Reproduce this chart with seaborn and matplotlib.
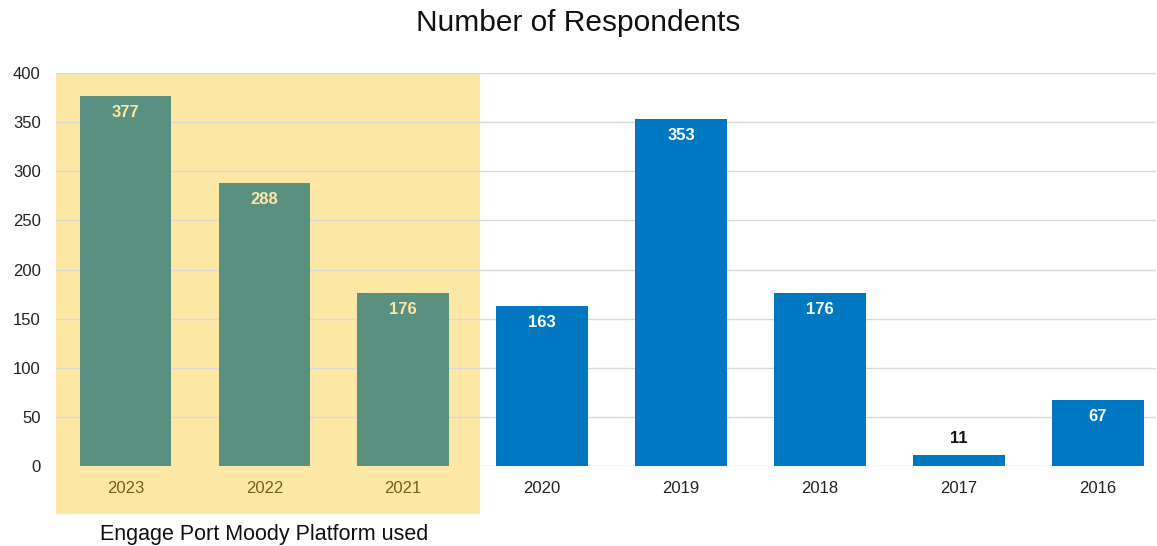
import matplotlib.pyplot as plt
import matplotlib.transforms as mtransforms
from matplotlib.patches import Rectangle
import pandas as pd
import seaborn as sns

years = ["2023", "2022", "2021", "2020", "2019", "2018", "2017", "2016"]
respondents = [377, 288, 176, 163, 353, 176, 11, 67]
platform = ["Engage", "Engage", "Engage", "Other", "Other", "Other", "Other", "Other"]

GREEN = "#5A9080"
BLUE = "#0078C1"
YELLOW = "#FDE7A5"
BROWN = "#7A5E1E"

df = pd.DataFrame({"year": years, "count": respondents, "platform": platform})

sns.set_style("white")
plt.rcParams["font.family"] = ["Liberation Sans", "DejaVu Sans"]

fig = plt.figure(figsize=(11.57, 5.46), dpi=100)
ax = fig.add_axes([56 / 1157, 1 - 466 / 546, 1100 / 1157, 393 / 546])

sns.barplot(data=df, x="year", y="count", hue="platform", order=years,
            palette={"Engage": GREEN, "Other": BLUE}, dodge=False,
            saturation=1, width=0.66, linewidth=0, edgecolor="none",
            legend=False, ax=ax, zorder=3)

ax.set_xlim(-0.5, 7.42)
ax.set_ylim(0, 400)
ax.set_yticks(range(0, 401, 50))
ax.grid(axis="y", color="#D9D9D9", linewidth=1, zorder=1)
ax.set_axisbelow(False)
for s in ax.spines.values():
    s.set_visible(False)
ax.tick_params(length=0)
ax.tick_params(axis="y", pad=11)
ax.tick_params(axis="x", pad=11)
ax.set_xlabel("")
ax.set_ylabel("")
for lbl in ax.get_yticklabels():
    lbl.set_fontsize(12)
    lbl.set_color("#222222")
for i, lbl in enumerate(ax.get_xticklabels()):
    lbl.set_fontsize(12)
    lbl.set_color(BROWN if platform[i] == "Engage" else "#222222")

# highlighted region for Engage platform years
trans = mtransforms.blended_transform_factory(ax.transData, ax.transAxes)
n_engage = platform.count("Engage")
ax.add_patch(Rectangle((-0.5, -0.122), n_engage + 0.05, 1.122, transform=trans,
                       facecolor=YELLOW, edgecolor="none", clip_on=False, zorder=0))
ax.text((n_engage - 1) / 2, -0.175, "Engage Port Moody Platform used", transform=trans,
        ha="center", va="center", fontsize=15.5, color="#111111")

# value labels
for i, v in enumerate(respondents):
    if v < 30:
        ax.text(i, v + 16.5, str(v), ha="center", va="center", fontsize=12,
                fontweight="bold", color="#111111", zorder=4)
    else:
        c = YELLOW if platform[i] == "Engage" else "white"
        ax.text(i, v - 17, str(v), ha="center", va="center", fontsize=12,
                fontweight="bold", color=c, zorder=4)

fig.text(0.5, 1 - 23 / 546, "Number of Respondents", ha="center", va="center",
         fontsize=21.5, color="#111111")

fig.savefig("out.png", dpi=100)
